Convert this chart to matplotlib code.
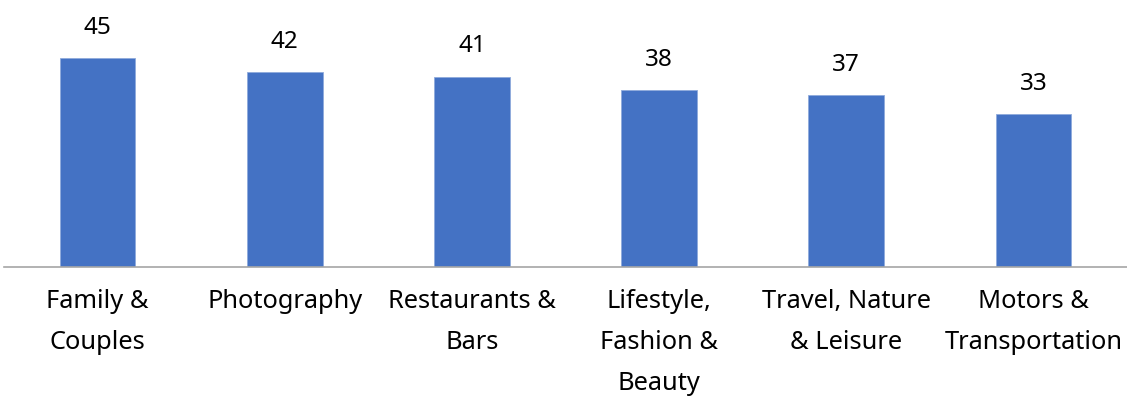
import matplotlib.pyplot as plt

categories = ["Family &\nCouples", "Photography", "Restaurants &\nBars",
              "Lifestyle,\nFashion &\nBeauty", "Travel, Nature\n& Leisure",
              "Motors &\nTransportation"]
values = [45, 42, 41, 38, 37, 33]

BAR_COLOR = "#4472C4"

plt.rcParams["font.family"] = ["Noto Sans", "DejaVu Sans"]

fig = plt.figure(figsize=(11.27, 3.98), dpi=100)
ax = fig.add_axes([4 / 1127, 1 - 266.5 / 398, 1123 / 1127, 231.7 / 398])

x = range(len(categories))
bars = ax.bar(x, values, width=0.405, color=BAR_COLOR,
              edgecolor="#8FAADC", linewidth=0.6)

for rect, v in zip(bars, values):
    ax.annotate(str(v), (rect.get_x() + rect.get_width() / 2, v),
                xytext=(0, 13), textcoords="offset points",
                ha="center", va="bottom", fontsize=17.5, color="black")

ax.set_xlim(-0.5, len(categories) - 0.5)
ax.set_ylim(0, 50)
ax.set_xticks(list(x))
ax.set_xticklabels(categories, fontsize=18.3, linespacing=1.86,
                   va="top")
ax.tick_params(axis="x", length=0, pad=16)
ax.set_yticks([])

for side in ("top", "right", "left"):
    ax.spines[side].set_visible(False)
ax.spines["bottom"].set_color("#A6A6A6")
ax.spines["bottom"].set_linewidth(1.2)

fig.savefig("out.png", dpi=100)
